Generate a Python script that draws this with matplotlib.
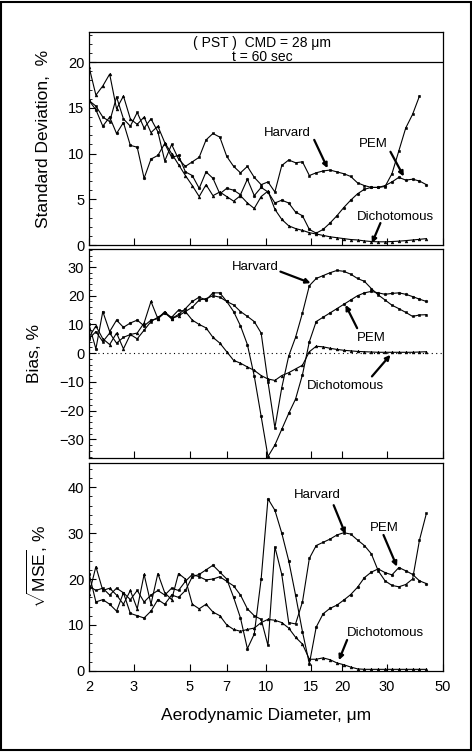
import matplotlib
matplotlib.use('Agg')
import matplotlib.pyplot as plt
from matplotlib.patches import Rectangle
from matplotlib.ticker import FixedLocator, NullLocator, MultipleLocator, FixedFormatter

plt.rcParams['font.family'] = ['Liberation Sans', 'DejaVu Sans']
plt.rcParams['mathtext.fontset'] = 'custom'
plt.rcParams['mathtext.rm'] = 'Liberation Sans'

# aerodynamic diameter (um)
diam = [2.000, 2.129, 2.267, 2.413, 2.569, 2.735, 2.912, 3.100, 3.300, 3.513,
        3.740, 3.982, 4.239, 4.513, 4.805, 5.115, 5.446, 5.797, 6.172, 6.571,
        6.995, 7.447, 7.928, 8.441, 8.986, 9.567, 10.18, 10.84, 11.54, 12.29,
        13.08, 13.93, 14.83, 15.78, 16.80, 17.89, 19.05, 20.28, 21.59, 22.98,
        24.47, 26.05, 27.73, 29.52, 31.43, 33.46, 35.62, 37.92, 40.37, 42.98]

# standard deviation, %
harvard_sd = [15.8, 15.2, 14.0, 13.5, 16.2, 13.8, 13.0, 14.5, 12.8, 13.8,
              12.4, 9.2, 11.0, 9.4, 8.6, 9.1, 9.6, 11.5, 12.2, 11.8,
              9.7, 8.6, 7.9, 8.6, 7.4, 6.6, 6.9, 5.8, 8.7, 9.3,
              9.0, 9.1, 7.6, 7.9, 8.1, 8.2, 8.0, 7.8, 7.5, 6.8,
              6.5, 6.3, 6.3, 6.4, 7.8, 10.3, 12.8, 14.3, 16.3]
pem_sd = [15.8, 14.8, 13.0, 14.0, 12.2, 13.4, 10.9, 10.7, 7.3, 9.4,
          9.8, 11.1, 9.6, 9.8, 8.0, 7.6, 6.2, 8.0, 7.3, 5.6,
          6.2, 6.0, 5.5, 7.2, 5.4, 6.3, 5.8, 4.6, 4.9, 4.6,
          3.6, 3.2, 1.7, 1.3, 1.7, 2.4, 3.2, 4.1, 4.9, 5.6,
          6.1, 6.3, 6.3, 6.5, 6.9, 7.4, 7.1, 7.2, 7.0, 6.6]
dich_sd = [19.5, 16.4, 17.4, 18.7, 14.9, 16.3, 13.8, 13.2, 14.0, 12.3,
           13.0, 11.2, 10.0, 8.8, 7.6, 6.5, 5.3, 6.6, 5.4, 5.8,
           5.3, 4.8, 5.4, 4.6, 4.0, 5.3, 5.9, 3.9, 2.8, 2.1,
           1.8, 1.6, 1.35, 1.2, 1.05, 0.9, 0.8, 0.7, 0.6, 0.55,
           0.45, 0.38, 0.35, 0.35, 0.38, 0.42, 0.48, 0.55, 0.62, 0.7]

# bias, %
harvard_bias = [5.0, 7.5, 4.0, 7.0, 3.5, 5.5, 6.5, 5.0, 8.0, 11.0,
                12.5, 14.0, 12.5, 15.0, 14.5, 16.0, 18.5, 19.0, 20.0, 19.5,
                18.0, 16.8, 14.5, 12.8, 11.0, 7.0, -10.0, -26.0, -12.0, -1.0,
                5.5, 14.0, 23.5, 26.0, 27.0, 28.0, 28.8, 28.5, 27.5, 26.0,
                25.0, 22.5, 20.3, 18.5, 16.7, 15.5, 14.2, 12.8, 13.3, 13.4]
pem_bias = [10.0, 1.5, 14.5, 7.5, 11.5, 9.0, 10.5, 11.5, 9.5, 11.5,
            12.0, 14.0, 12.0, 13.5, 15.5, 18.0, 19.5, 18.5, 21.0, 21.0,
            18.0, 14.5, 9.5, 3.0, -8.0, -22.0, -36.0, -32.0, -26.5, -21.0,
            -16.0, -7.5, 4.0, 11.0, 12.5, 14.0, 15.5, 17.0, 18.5, 20.0,
            21.0, 21.5, 21.0, 20.5, 20.8, 21.0, 20.5, 19.7, 18.8, 18.0]
dich_bias = [5.5, 9.5, 5.0, 3.0, 7.0, 1.5, 6.5, 7.0, 10.5, 18.0,
             12.0, 14.5, 12.0, 13.0, 14.5, 11.5, 10.0, 8.8, 5.5, 3.5,
             0.5, -2.5, -3.5, -4.8, -6.0, -7.8, -9.0, -9.5, -7.8, -6.8,
             -5.5, -4.2, 0.5, 2.4, 2.2, 1.7, 1.3, 1.0, 0.8, 0.6,
             0.5, 0.4, 0.3, 0.3, 0.3, 0.3, 0.3, 0.3, 0.4, 0.5]

# sqrt(MSE), %
harvard_mse = [18.5, 17.5, 18.0, 16.5, 18.0, 17.0, 15.5, 17.5, 15.0, 16.5,
               17.5, 16.5, 18.0, 17.5, 19.5, 21.0, 20.5, 19.8, 20.0, 20.5,
               19.5, 18.5, 16.5, 13.5, 12.0, 11.2, 5.5, 27.0, 21.0, 10.5,
               10.2, 15.0, 24.5, 27.3, 28.0, 28.7, 29.6, 30.1, 29.8, 28.5,
               27.3, 25.5, 21.8, 19.6, 18.6, 18.3, 18.8, 20.0, 28.5, 34.3]
pem_mse = [21.2, 15.0, 15.5, 14.5, 13.0, 17.0, 12.5, 12.0, 11.5, 13.0,
           15.5, 14.5, 16.5, 16.0, 17.5, 20.5, 21.0, 22.0, 23.0, 21.5,
           20.0, 16.0, 11.5, 4.8, 8.0, 20.0, 37.5, 35.0, 30.0, 24.0,
           16.5, 8.5, 1.5, 9.5, 12.4, 13.6, 14.3, 15.4, 16.6, 18.2,
           20.3, 21.5, 22.2, 21.4, 20.9, 22.5, 21.8, 21.0, 19.6, 19.0]
dich_mse = [16.7, 22.7, 17.5, 18.0, 16.5, 14.5, 17.5, 13.5, 21.0, 14.5,
            21.2, 17.0, 15.5, 21.2, 20.0, 14.5, 13.5, 14.5, 12.8, 12.0,
            10.0, 9.0, 8.6, 9.0, 9.3, 10.5, 11.2, 11.0, 10.5, 9.3,
            7.3, 5.8, 2.5, 2.5, 2.8, 2.4, 1.7, 1.3, 0.8, 0.4,
            0.3, 0.3, 0.3, 0.3, 0.3, 0.3, 0.3, 0.3, 0.3, 0.3]

xticks = [2, 3, 5, 7, 10, 15, 20, 30, 50]
xlabels = ['2', '3', '5', '7', '10', '15', '20', '30', '50']

fig = plt.figure(figsize=(4.72, 7.52), dpi=100)

# axes positions (left, bottom, width, height)
ax1 = fig.add_axes([0.1886, 0.6742, 0.75, 0.2832])
ax2 = fig.add_axes([0.1886, 0.391, 0.75, 0.278])
ax3 = fig.add_axes([0.1886, 0.1081, 0.75, 0.2762])


def draw(ax, h, p, d):
    n = len(h)
    ax.plot(diam[:n], h, color='k', lw=0.8, marker='s', ms=2.1, mew=0.4)
    ax.plot(diam, p, color='k', lw=0.8, marker='o', ms=1.9, mew=0.4)
    ax.plot(diam, d, color='k', lw=0.8, marker='^', ms=2.0, mew=0.4)


draw(ax1, harvard_sd, pem_sd, dich_sd)
draw(ax2, harvard_bias, pem_bias, dich_bias)
draw(ax3, harvard_mse, pem_mse, dich_mse)

for ax in [ax1, ax2, ax3]:
    ax.set_xscale('log')
    ax.set_xlim(2, 50)
    ax.xaxis.set_major_locator(FixedLocator(xticks))
    ax.xaxis.set_minor_locator(NullLocator())
    ax.xaxis.set_major_formatter(FixedFormatter(xlabels))
    ax.tick_params(which='both', direction='in', top=False, right=False, labelsize=10.5)
    ax.tick_params(which='major', length=5, width=0.8)
    ax.tick_params(which='minor', length=2.5, width=0.6)
    ax.tick_params(axis='x', pad=7)
    for s in ax.spines.values():
        s.set_linewidth(0.9)

ax1.tick_params(axis='x', labelbottom=False)
ax2.tick_params(axis='x', labelbottom=False)

# y scales
ax1.set_ylim(0, 23.3)
ax1.set_yticks([0, 5, 10, 15, 20])
ax1.yaxis.set_minor_locator(MultipleLocator(1))
ax2.set_ylim(-36.5, 36.3)
ax2.set_yticks([-30, -20, -10, 0, 10, 20, 30])
ax2.yaxis.set_minor_locator(MultipleLocator(2))
ax3.set_ylim(0, 45.3)
ax3.set_yticks([0, 10, 20, 30, 40])
ax3.yaxis.set_minor_locator(MultipleLocator(2))

# title box in top panel
ax1.axhline(20, color='k', lw=0.9)
ax1.text(0.49, 22.1, '( PST )  CMD = 28 \u03bcm', transform=ax1.get_yaxis_transform(),
         ha='center', va='center', fontsize=10)
ax1.text(0.49, 20.6, 't = 60 sec', transform=ax1.get_yaxis_transform(),
         ha='center', va='center', fontsize=10)

# zero line
ax2.axhline(0, color='k', lw=0.8, ls=(0, (1, 3)))

# labels
ax1.set_ylabel('Standard Deviation,  %', fontsize=12.5)
ax2.set_ylabel('Bias, %', fontsize=12.5)
ax3.set_ylabel(r'$\sqrt{\mathrm{MSE}}$, %', fontsize=12.5)
ax1.yaxis.set_label_coords(-0.108, 0.5)
ax2.yaxis.set_label_coords(-0.133, 0.5)
ax3.yaxis.set_label_coords(-0.11, 0.5)
ax3.set_xlabel('Aerodynamic Diameter, \u03bcm', fontsize=12.5, labelpad=10)

# annotations with arrows
arr = dict(arrowstyle='-|>', color='k', lw=1.6, mutation_scale=7, shrinkA=0, shrinkB=0)


def note(ax, txt, tx, ty, ax0, ay0, px, py):
    ax.text(tx, ty, txt, ha='center', va='center', fontsize=9.5)
    ax.annotate('', xy=(px, py), xytext=(ax0, ay0), arrowprops=arr)


note(ax1, 'Harvard', 12.1, 12.2, 15.5, 11.5, 17.5, 8.4)
note(ax1, 'PEM', 26.6, 11.0, 31.0, 10.2, 35.0, 7.5)
note(ax1, 'Dichotomous', 32.5, 3.1, 28.3, 2.4, 26.2, 0.2)

note(ax2, 'Harvard', 9.06, 30.0, 11.4, 28.4, 15.0, 24.4)
note(ax2, 'PEM', 26.1, 5.2, 22.9, 8.7, 20.6, 16.8)
note(ax2, 'Dichotomous', 20.6, -11.6, 26.2, -8.1, 31.0, -0.6)

note(ax3, 'Harvard', 15.9, 38.3, 18.5, 36.1, 20.6, 29.8)
note(ax3, 'PEM', 29.4, 31.1, 29.1, 29.6, 32.9, 22.7)
note(ax3, 'Dichotomous', 29.6, 8.2, 20.9, 6.7, 19.4, 2.3)

# frame around the whole figure
fig.add_artist(Rectangle((0.002, 0.002), 0.996, 0.996, transform=fig.transFigure,
                         fill=False, lw=1.5, ec='k'))

plt.savefig('out.png', dpi=100)
